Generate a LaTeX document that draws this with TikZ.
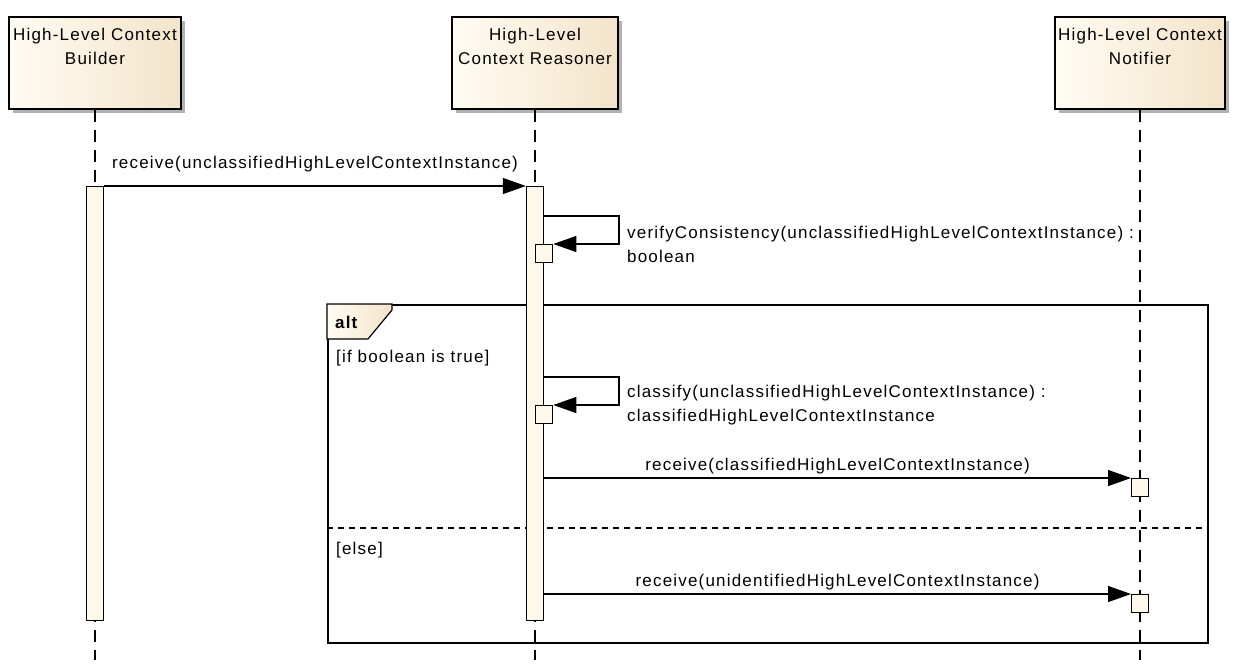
\documentclass[tikz,border=0pt]{standalone}
\usepackage{fontspec}
\setmainfont{Liberation Sans}[LetterSpace=7]
\usetikzlibrary{arrows.meta,positioning,shadows}
\definecolor{headleft}{RGB}{255,252,243}
\definecolor{headright}{RGB}{243,228,202}
\definecolor{actfill}{RGB}{253,248,234}

\begin{document}
\begin{tikzpicture}[x=1pt,y=-1pt,line join=miter,>={Triangle[length=23pt,width=16pt]},
    font=\fontsize{17}{24}\selectfont,
    head/.style={draw,line width=1.6pt,minimum height=92pt,inner sep=0pt,
      left color=headleft,right color=headright,
      drop shadow={shadow xshift=4pt,shadow yshift=-4pt,fill=black!30,opacity=1}},
    headtext/.style={anchor=north,align=center,yshift=-8pt},
    lifeline/.style={line width=1.2pt,dash pattern=on 12pt off 8pt},
    act/.style={draw,line width=1.3pt,fill=actfill,minimum width=17pt,inner sep=0pt},
    smallbox/.style={act,minimum height=18pt,anchor=north west},
    msg/.style={->,line width=1.2pt},
    guard/.style={anchor=west,inner sep=0pt}]
  \useasboundingbox (0,0) rectangle (1241,670);
  \coordinate (bottom) at (0,660); % Ende der Lebenslinien

  % Kopfboxen
  \node[head,minimum width=172pt,label={[headtext]north:High-Level Context\\Builder}] (builder) at (95,63) {};
  \node[head,minimum width=166pt,label={[headtext]north:High-Level\\Context Reasoner}] (reasoner) at (535,63) {};
  \node[head,minimum width=170pt,label={[headtext]north:High-Level Context\\Notifier}] (notifier) at (1140,63) {};

  % Lebenslinien
  \draw[lifeline] (builder.south) -- (builder.south |- bottom);
  \draw[lifeline] (reasoner.south) -- (reasoner.south |- bottom);
  \draw[lifeline] (notifier.south) -- (notifier.south |- bottom);

  % alt-Rahmen
  \node[draw,line width=1.6pt,minimum width=880pt,minimum height=338pt,inner sep=0pt,anchor=north west] (alt) at (327,304) {};
  \draw[line width=1.2pt,left color=headleft,right color=headright]
    (alt.north west) -- ++(65,0) -- ++(0,6) -- ++(-24,29) -- ++(-41,0) -- cycle; % Reiter
  \node[guard,font=\fontsize{17}{24}\selectfont\bfseries] (altname) at ([xshift=8pt,yshift=-18pt]alt.north west) {alt};
  \node[guard] (guardif) at ([xshift=9pt,yshift=-54pt]alt.north west) {[if boolean is true]};
  \coordinate (sep) at (327,528);
  \draw[line width=1.2pt,dash pattern=on 6pt off 5pt] (sep) -- (alt.east |- sep); % Trennlinie
  \node[guard] (guardelse) at ([xshift=9pt,yshift=-22pt]sep) {[else]};

  % Aktivierungen
  \node[act,minimum height=434pt,anchor=north] (actB) at (95,186) {};
  \node[act,minimum height=434pt,anchor=north] (actR) at (535,186) {};

  % receive
  \draw[msg] (actB.north east) -- (actR.north west)
    node[midway,above=10pt] {receive(unclassifiedHighLevelContextInstance)};

  % verifyConsistency
  \node[smallbox] (check) at (535,244) {};
  \coordinate (loopA) at (619,216);
  \draw[msg] (actR.east |- loopA) -- (loopA) |- (check.north east);
  \node[anchor=west,align=left,inner sep=0pt] (checkL) at ([xshift=8pt]loopA |- check.north)
    {verifyConsistency(unclassifiedHighLevelContextInstance) :\\boolean};

  % classify
  \node[smallbox] (classify) at (535,405) {};
  \coordinate (loopB) at (619,377);
  \draw[msg] (actR.east |- loopB) -- (loopB) |- (classify.north east);
  \node[anchor=west,align=left,inner sep=0pt] (classifyL) at ([xshift=8pt]loopB |- classify.north)
    {classify(unclassifiedHighLevelContextInstance) :\\classifiedHighLevelContextInstance};

  % receive an Notifier
  \node[smallbox] (recvA) at (1131,478) {};
  \draw[msg] (actR.east |- recvA.north) -- (recvA.north west)
    node[midway,above=0pt] {receive(classifiedHighLevelContextInstance)};
  \node[smallbox] (recvB) at (1131,594) {};
  \draw[msg] (actR.east |- recvB.north) -- (recvB.north west)
    node[midway,above=0pt] {receive(unidentifiedHighLevelContextInstance)};
\end{tikzpicture}
\end{document}
